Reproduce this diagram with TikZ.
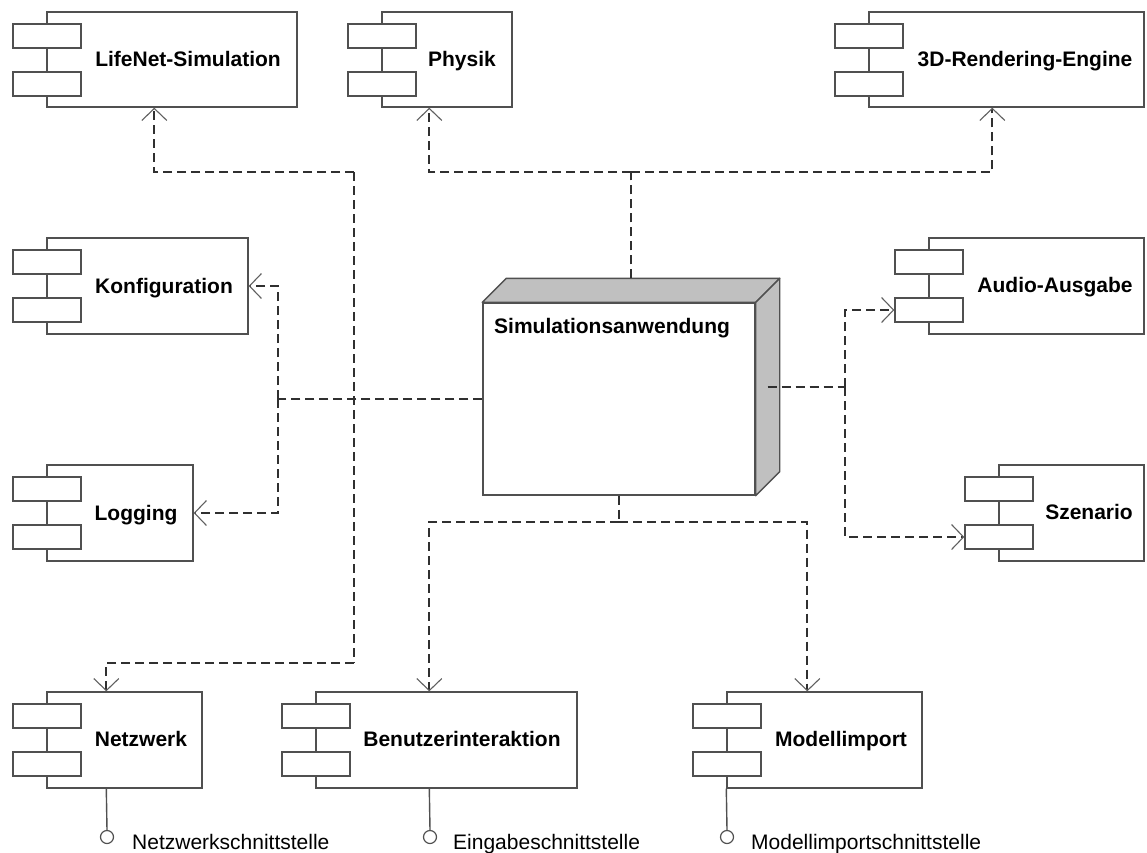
\documentclass[tikz,border=0pt]{standalone}
\usepackage{fontspec}
\setmainfont{Liberation Sans}
\usetikzlibrary{arrows.meta,fit,calc}
\definecolor{edgegray}{HTML}{505050}
\definecolor{dashgray}{HTML}{303030}
\definecolor{tipgray}{HTML}{606060}
\definecolor{facegray}{HTML}{C0C0C0}
\tikzset{
  compbox/.style={draw=edgegray, line width=1.4pt, fill=white, inner sep=0pt},
  tabbox/.style={draw=edgegray, line width=1.4pt, fill=white, inner sep=0pt,
    minimum width=68pt, minimum height=24pt, anchor=north west},
  dep/.style={draw=dashgray, line width=1.8pt, dash pattern=on 9pt off 5pt},
  deparrow/.style={dep, -{Straight Barb[length=12pt,width=25pt,line width=1.1pt,color=tipgray]}},
  title/.style={font=\fontsize{21}{25}\selectfont\bfseries, anchor=base, inner sep=0pt},
  iflabel/.style={font=\fontsize{21}{25}\selectfont, anchor=base west, inner sep=0pt},
  lolli/.style={draw=edgegray, line width=1.4pt},
  ifcircle/.style={circle, draw=edgegray, line width=1.2pt, fill=white, minimum size=13pt, inner sep=0pt},
}
% UML component: name, left, top, right, bottom (pixel units, y downwards)
\newcommand{\umlcomp}[5]{%
  \coordinate (#1-nw) at (#2,#3);
  \coordinate (#1-se) at (#4,#5);
  \node[compbox, fit=(#1-nw)(#1-se)] (#1) {};
  \node[tabbox] (#1-tab1) at ([xshift=-34pt,yshift=-12pt]#1.north west) {};
  \node[tabbox] (#1-tab2) at ([xshift=-34pt,yshift=-60pt]#1.north west) {};
}
\begin{document}
\begin{tikzpicture}[x=1pt,y=-1pt]
\useasboundingbox[fill=white] (0,0) rectangle (1147,852);

% components
\umlcomp{life}{47}{12}{297}{107}
\umlcomp{phys}{382}{12}{512}{107}
\umlcomp{rend}{869}{12}{1144}{107}
\umlcomp{konf}{47}{238}{248}{334}
\umlcomp{logg}{47}{465}{193}{561}
\umlcomp{audio}{929}{238}{1144}{334}
\umlcomp{szen}{999}{465}{1144}{561}
\umlcomp{netz}{47}{692}{202}{788}
\umlcomp{benu}{316}{692}{577}{788}
\umlcomp{modl}{727}{692}{922}{788}

\node[title] (lifeT)  at (188,66)  {LifeNet-Simulation};
\node[title] (physT)  at (462,66)  {Physik};
\node[title] (rendT)  at (1025,66) {3D-Rendering-Engine};
\node[title] (konfT)  at (164,293) {Konfiguration};
\node[title] (loggT)  at (136,520) {Logging};
\node[title] (audioT) at (1055,292) {Audio-Ausgabe};
\node[title] (szenT)  at (1089,519) {Szenario};
\node[title] (netzT)  at (141,746) {Netzwerk};
\node[title] (benuT)  at (462,746) {Benutzerinteraktion};
\node[title] (modlT)  at (841,746) {Modellimport};

% deployment node (3D box)
\coordinate (sim-nw) at (483,303);
\coordinate (sim-se) at (755,495);
\node[compbox, fit=(sim-nw)(sim-se)] (sim) {};
\draw[compbox, fill=facegray, line join=round] (sim.north west) -- ++(24,-24)
  -- ([xshift=24pt,yshift=24pt]sim.north east) -- (sim.north east) -- cycle;
\draw[compbox, fill=facegray, line join=round] (sim.north east) -- ++(24,-24)
  -- ([xshift=24pt,yshift=24pt]sim.south east) -- (sim.south east) -- cycle;
\node[title, anchor=base west] (simT) at (494,333) {Simulationsanwendung};

% provided interfaces
\node[ifcircle] (netzIf) at (107,837) {};
\draw[lolli] ([xshift=60pt]netz.south west) -- (netzIf.north);
\node[iflabel] (netzIfT) at (132,849) {Netzwerkschnittstelle};
\node[ifcircle] (benuIf) at (430,837) {};
\draw[lolli] ([xshift=114pt]benu.south west) -- (benuIf.north);
\node[iflabel] (benuIfT) at (453,849) {Eingabeschnittstelle};
\node[ifcircle] (modlIf) at (727,837) {};
\draw[lolli] (modl.south west) -- (modlIf.north);
\node[iflabel] (modlIfT) at (751,849) {Modellimportschnittstelle};

% dependencies: top
\coordinate (jTop) at (631,172);
\draw[dep] ([xshift=12pt,yshift=24pt]sim.north) -- (jTop);
\draw[deparrow] (jTop) -| ([xshift=48pt]phys.south west);
\draw[deparrow] (jTop) -| ([xshift=124pt]rend.south west);

% dependencies: left
\coordinate (jLeft) at (278,399);
\draw[dep] (sim.west) -- (jLeft);
\draw[deparrow] (jLeft) |- (konf.east);
\draw[deparrow] (jLeft) |- (logg.east);
\coordinate (jBusTop) at (354,172);
\coordinate (jBusBot) at (354,663);
\draw[dep] (jBusTop) -- (jBusBot);
\draw[deparrow] (jBusTop) -| ([xshift=108pt]life.south west);
\draw[deparrow] (jBusBot) -| ([xshift=60pt]netz.north west);

% dependencies: right
\coordinate (jRight) at (845,387);
\draw[dep] ([xshift=12pt,yshift=12pt]sim.east) -- (jRight);
\draw[deparrow] (jRight) |- (audio-tab2.west);
\draw[deparrow] (jRight) |- (szen-tab2.west);

% dependencies: bottom
\coordinate (jBot) at (619,522);
\draw[dep] (sim.south) -- (jBot);
\draw[deparrow] (jBot) -| ([xshift=114pt]benu.north west);
\draw[deparrow] (jBot) -| ([xshift=81pt]modl.north west);
\end{tikzpicture}
\end{document}
